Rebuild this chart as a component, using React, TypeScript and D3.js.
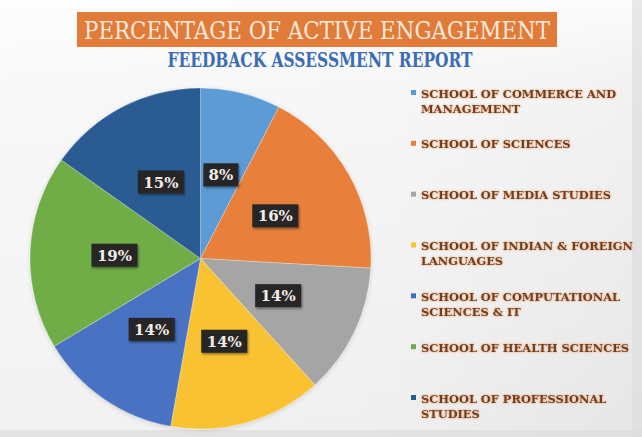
import React from "react";
import * as d3 from "d3";

const categories: string[][] = [
  ["SCHOOL OF COMMERCE AND", "MANAGEMENT"],
  ["SCHOOL OF SCIENCES"],
  ["SCHOOL OF MEDIA STUDIES"],
  ["SCHOOL OF INDIAN & FOREIGN", "LANGUAGES"],
  ["SCHOOL OF COMPUTATIONAL", "SCIENCES & IT"],
  ["SCHOOL OF HEALTH SCIENCES"],
  ["SCHOOL OF PROFESSIONAL", "STUDIES"],
];
// slice sizes as drawn in the picture
const values: number[] = [7.6, 18.3, 12.4, 14.5, 13.6, 18.4, 15.2];
// percentage labels printed on the slices
const valueLabels: string[] = ["8%", "16%", "14%", "14%", "14%", "19%", "15%"];
const colors: string[] = ["#5b9bd5", "#e8803a", "#a5a5a5", "#f8c232", "#4a72c2", "#70ad47", "#2a5b93"];
const legendColors: string[] = ["#5b9bd5", "#e8803a", "#a5a5a5", "#f8c232", "#3f6fc4", "#70ad47", "#255e91"];

const W = 642;
const H = 437;
const SERIF = "DejaVu Serif";

export default function App() {
  const cx = 200.5;
  const cy = 258.5;
  const R = 170.5;
  const pie = d3.pie<number>().sort(null).value((d) => d);
  const arcs = pie(values);
  const arc = d3.arc<d3.PieArcDatum<number>>().innerRadius(0).outerRadius(R);
  const labelArc = d3.arc<d3.PieArcDatum<number>>().innerRadius(0).outerRadius(R * 1.01);

  const legendY = d3.scalePoint<number>().domain(d3.range(categories.length)).range([93, 398]);

  return (
    <svg width={W} height={H} style={{ position: "absolute", left: 0, top: 0 }} xmlns="http://www.w3.org/2000/svg">
      <defs>
        <linearGradient id="bg" x1="0" y1="0" x2="0" y2="1">
          <stop offset="0" stopColor="#fcfcfc" />
          <stop offset="0.2" stopColor="#f2f2f2" />
          <stop offset="1" stopColor="#e6e6e6" />
        </linearGradient>
        <linearGradient id="bgx" x1="0" y1="0" x2="1" y2="0">
          <stop offset="0" stopColor="#ffffff" stopOpacity="0.5" />
          <stop offset="0.6" stopColor="#ffffff" stopOpacity="0.35" />
          <stop offset="1" stopColor="#ffffff" stopOpacity="0" />
        </linearGradient>
        <filter id="sh" x="-30%" y="-30%" width="160%" height="160%">
          <feDropShadow dx="1" dy="1.5" stdDeviation="1.2" floodColor="#000" floodOpacity="0.45" />
        </filter>
        <filter id="glow" x="-5%" y="-30%" width="110%" height="160%">
          <feDropShadow dx="0" dy="0" stdDeviation="0.8" floodColor="#e8803a" floodOpacity="0.9" />
        </filter>
        <filter id="pieSh" x="-10%" y="-10%" width="120%" height="120%">
          <feDropShadow dx="0" dy="1" stdDeviation="2" floodColor="#000" floodOpacity="0.15" />
        </filter>
      </defs>
      <rect x={0} y={0} width={W} height={H} fill="url(#bg)" />
      <rect x={0} y={0} width={W} height={H} fill="url(#bgx)" />
      <rect x={632} y={0} width={10} height={H} fill="#dcdcdc" opacity={0.6} />
      <rect x={0} y={430} width={W} height={7} fill="#dadada" opacity={0.6} />

      {/* Title */}
      <rect x={77} y={12} width={480} height={35} fill="#e07b3a" />
      <text
        x={317}
        y={39}
        textAnchor="middle"
        fontFamily={SERIF}
        fontSize={25}
        fill="#fbe9dc"
        textLength={466}
        lengthAdjust="spacingAndGlyphs"
      >
        PERCENTAGE OF ACTIVE ENGAGEMENT
      </text>
      <text
        x={320}
        y={67}
        textAnchor="middle"
        fontFamily={SERIF}
        fontWeight="bold"
        fontSize={20}
        fill="#3a6db5"
        textLength={305}
        lengthAdjust="spacingAndGlyphs"
      >
        FEEDBACK ASSESSMENT REPORT
      </text>

      {/* Pie */}
      <g transform={`translate(${cx},${cy})`} filter="url(#pieSh)">
        {arcs.map((a, i) => (
          <path key={i} d={arc(a) || ""} fill={colors[i]} stroke="#ffffff" strokeOpacity={0.35} strokeWidth={0.8} />
        ))}
      </g>
      <g transform={`translate(${cx},${cy})`}>
        {arcs.map((a, i) => {
          const [lx, ly] = labelArc.centroid(a);
          const w = valueLabels[i].length === 2 ? 35 : 46;
          return (
            <g key={i} transform={`translate(${lx},${ly})`}>
              <rect x={-w / 2} y={-11.5} width={w} height={23} fill="#262626" filter="url(#sh)" />
              <text
                x={0}
                y={5.5}
                textAnchor="middle"
                fontFamily={SERIF}
                fontWeight="bold"
                fontSize={15}
                fill="#f3ece6"
              >
                {valueLabels[i]}
              </text>
            </g>
          );
        })}
      </g>

      {/* Legend */}
      {categories.map((lines, i) => {
        const y = legendY(i) as number;
        return (
          <g key={i}>
            <rect x={411} y={y - 3} width={5} height={5} fill={legendColors[i]} />
            {lines.map((ln, j) => (
              <text
                key={j}
                x={421}
                y={y + 4.5 + j * 15}
                fontFamily={SERIF}
                fontWeight="bold"
                fontSize={11.4}
                fill="#6a3f25"
                filter="url(#glow)"
              >
                {ln}
              </text>
            ))}
          </g>
        );
      })}
    </svg>
  );
}
